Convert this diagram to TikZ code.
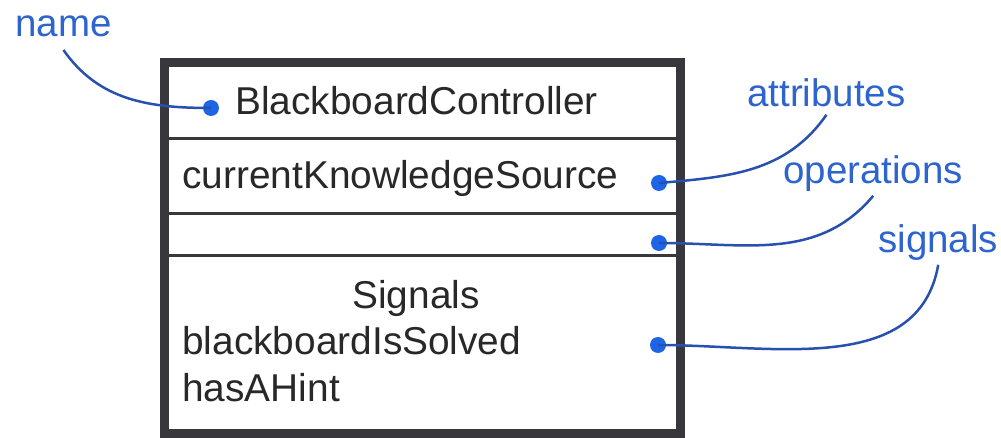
\documentclass[tikz,border=0pt]{standalone}
\usepackage{fontspec}
\setmainfont{Liberation Sans}
\usepackage{xcolor}
\usetikzlibrary{arrows.meta, positioning}

\definecolor{boxgray}{RGB}{55,55,60}
\definecolor{textgray}{RGB}{40,40,40}
\definecolor{labelblue}{RGB}{45,100,205}
\definecolor{lineblue}{RGB}{40,80,175}
\definecolor{dotblue}{RGB}{30,100,230}

\begin{document}
\begin{tikzpicture}[x=0.02cm, y=-0.02cm,
    member/.style={inner sep=0pt, text=textgray, font=\fontsize{22.1}{26}\selectfont},
    callout/.style={inner sep=0pt, text=labelblue, font=\fontsize{21.9}{26}\selectfont},
    pin/.style={circle, fill=dotblue, inner sep=0pt, minimum size=0.32cm},
    lead/.style={draw=lineblue, line width=0.05cm}]

\useasboundingbox (0,0) rectangle (1001,438);

% class box and its compartments
\draw[boxgray, line width=0.18cm] (164.5,62.5) rectangle (680.5,433.5);
\foreach \yy in {138.5, 213.5, 255.5}
  \draw[boxgray, line width=0.05cm] (169,\yy) -- (676,\yy);

\node[member, anchor=base west] (cname) at (235,115) {BlackboardController};
\node[member, anchor=base west] (cattr) at (182,189) {currentKnowledgeSource};
\node[member, anchor=base] (sighead) at (416,309) {Signals};
\node[member, anchor=base west] (sig1) at (182,355) {blackboardIsSolved};
\node[member, anchor=base west] (sig2) at (182,402) {hasAHint};

% pins
\node[pin] (namedot) at (211,108) {};
\node[pin] (attrdot) at (659,183) {};
\node[pin] (opdot) at (659,243) {};
\node[pin] (sigdot) at (658,345) {};

% callouts
\node[callout, anchor=base west] (namelbl) at (15,37) {name};
\node[callout, anchor=base west] (attrlbl) at (747,107) {attributes};
\node[callout, anchor=base west] (oplbl) at (783,184) {operations};
\node[callout, anchor=base west] (siglbl) at (878,253) {signals};

\draw[lead] ([yshift=-7pt]namelbl.south) to[out=-55, in=180] (namedot.center);
\draw[lead] ([yshift=-4pt]attrlbl.south) to[out=-125, in=5] (attrdot.center);
\draw[lead] ([yshift=-2pt]oplbl.south) to[out=-130, in=0] (opdot.center);
\draw[lead] ([yshift=-2pt]siglbl.south) to[out=-100, in=0] (sigdot.center);
\end{tikzpicture}
\end{document}
